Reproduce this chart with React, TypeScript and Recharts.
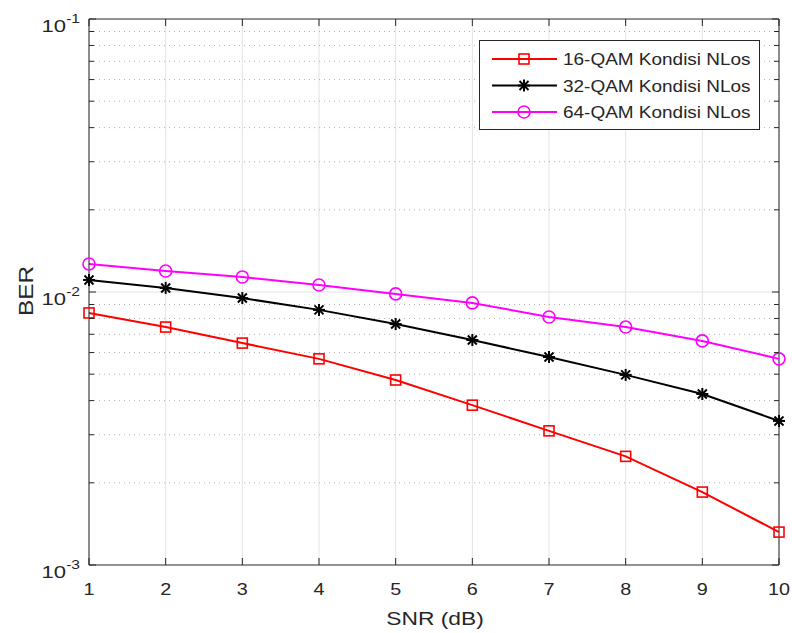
import { LineChart, Line, XAxis, YAxis, CartesianGrid, ReferenceLine } from 'recharts';

const snr = [1, 2, 3, 4, 5, 6, 7, 8, 9, 10];
const ber16 = [0.00838, 0.00744, 0.0065, 0.00569, 0.00476, 0.00385, 0.0031, 0.0025, 0.00185, 0.00132];
const ber32 = [0.01107, 0.01035, 0.0095, 0.0086, 0.00763, 0.00667, 0.00578, 0.00497, 0.00423, 0.00337];
const ber64 = [0.01267, 0.01194, 0.01135, 0.01061, 0.00984, 0.00912, 0.0081, 0.00744, 0.00662, 0.00569];
const seriesNames = ['16-QAM Kondisi NLos', '32-QAM Kondisi NLos', '64-QAM Kondisi NLos'];

const majorY = [0.001, 0.01, 0.1];
const majorExp = ['-3', '-2', '-1'];
const minorY = [0.002, 0.003, 0.004, 0.005, 0.006, 0.007, 0.008, 0.009, 0.02, 0.03, 0.04, 0.05, 0.06, 0.07, 0.08, 0.09];

const chartData = snr.map((s, i) => ({ snr: s, a: ber16[i], b: ber32[i], c: ber64[i] }));

const W = 792;
const H = 633;
const PLOT_LEFT = 89;
const PLOT_RIGHT = 779;
const PLOT_TOP = 19;
const PLOT_BOTTOM = 565;
const AX = '#262626';
const FONT = '"Liberation Sans", Arial, Helvetica, sans-serif';
const STRETCH = 1.2;

const RED = '#ff0000';
const BLACK = '#000000';
const MAGENTA = '#ff00ff';

const Square = ({ cx, cy, color }: any) => (
  <rect x={cx - 5} y={cy - 5} width={10} height={10} fill="none" stroke={color} strokeWidth={1.6} />
);
const Star = ({ cx, cy, color }: any) => (
  <g stroke={color} strokeWidth={2}>
    <line x1={cx - 6} y1={cy} x2={cx + 6} y2={cy} />
    <line x1={cx} y1={cy - 6} x2={cx} y2={cy + 6} />
    <line x1={cx - 4.5} y1={cy - 4.5} x2={cx + 4.5} y2={cy + 4.5} />
    <line x1={cx - 4.5} y1={cy + 4.5} x2={cx + 4.5} y2={cy - 4.5} />
  </g>
);
const Ring = ({ cx, cy, color }: any) => (
  <circle cx={cx} cy={cy} r={6} fill="none" stroke={color} strokeWidth={1.6} />
);

const YTick = (props: any) => {
  const { y, payload } = props;
  const idx = majorY.indexOf(payload.value);
  const major = idx >= 0;
  const len = major ? 7 : 5;
  return (
    <g>
      <line x1={PLOT_LEFT} y1={y} x2={PLOT_LEFT + len} y2={y} stroke={AX} strokeWidth={1} />
      <line x1={PLOT_RIGHT} y1={y} x2={PLOT_RIGHT - len} y2={y} stroke={AX} strokeWidth={1} />
      {major && (
        <text
          transform={`translate(80, ${y + 13}) scale(1.3, 1)`}
          textAnchor="end"
          fill={AX}
          fontFamily={FONT}
        >
          <tspan fontSize={17}>10</tspan>
          <tspan fontSize={12} dy={-9}>{majorExp[idx]}</tspan>
        </text>
      )}
    </g>
  );
};

const XTick = (props: any) => {
  const { x, payload } = props;
  return (
    <g>
      <line x1={x} y1={PLOT_BOTTOM} x2={x} y2={PLOT_BOTTOM - 7} stroke={AX} strokeWidth={1} />
      <line x1={x} y1={PLOT_TOP} x2={x} y2={PLOT_TOP + 7} stroke={AX} strokeWidth={1} />
      <text
        transform={`translate(${x}, 595) scale(${STRETCH}, 1)`}
        textAnchor="middle"
        fill={AX}
        fontFamily={FONT}
        fontSize={16.5}
      >
        {payload.value}
      </text>
    </g>
  );
};

const legendItems = [
  { name: seriesNames[0], color: RED, Marker: Square },
  { name: seriesNames[1], color: BLACK, Marker: Star },
  { name: seriesNames[2], color: MAGENTA, Marker: Ring },
];

const LegendBox = () => (
  <svg width={281} height={90} style={{ display: 'block' }}>
    <rect x={0.5} y={0.5} width={280} height={89} fill="#fff" stroke={AX} strokeWidth={1} />
    {legendItems.map((item, i) => {
      const cy = 19 + i * 26.5;
      return (
        <g key={item.name}>
          <line x1={13} y1={cy} x2={78} y2={cy} stroke={item.color} strokeWidth={2} />
          <item.Marker cx={45} cy={cy} color={item.color} />
          <text
            transform={`translate(84, ${cy + 6}) scale(1.15, 1)`}
            fill={AX}
            fontFamily={FONT}
            fontSize={16.5}
          >
            {item.name}
          </text>
        </g>
      );
    })}
  </svg>
);

export default function App() {
  return (
    <div style={{ position: 'absolute', left: 0, top: 0, width: W, height: H, background: '#fff' }}>
      <LineChart width={W} height={H} data={chartData} margin={{ top: PLOT_TOP, right: W - PLOT_RIGHT, bottom: 0, left: 0 }}>
        <CartesianGrid horizontal={false} vertical stroke="#e3e3e3" strokeWidth={1} />
        {minorY.map((v) => (
          <ReferenceLine key={v} y={v} stroke="#b0b0b0" strokeDasharray="1 4" strokeWidth={1} />
        ))}
        <ReferenceLine y={0.01} stroke="#e3e3e3" strokeWidth={1} />
        <XAxis
          dataKey="snr"
          type="number"
          domain={[1, 10]}
          ticks={snr}
          height={H - PLOT_BOTTOM}
          tick={<XTick />}
          tickLine={false}
          axisLine={{ stroke: AX, strokeWidth: 1 }}
          label={{
            content: () => (
              <text
                transform={`translate(435, 625) scale(${STRETCH}, 1)`}
                textAnchor="middle"
                fill={AX}
                fontFamily={FONT}
                fontSize={19}
              >
                SNR (dB)
              </text>
            ),
          }}
        />
        <YAxis
          type="number"
          scale="log"
          domain={[0.001, 0.1]}
          allowDataOverflow
          ticks={[...majorY, ...minorY]}
          width={PLOT_LEFT}
          tick={<YTick />}
          tickLine={false}
          interval={0}
          axisLine={{ stroke: AX, strokeWidth: 1 }}
          label={{
            content: () => (
              <text
                transform={`translate(33, 291) rotate(-90) scale(1.25, 1)`}
                textAnchor="middle"
                fill={AX}
                fontFamily={FONT}
                fontSize={19.5}
              >
                BER
              </text>
            ),
          }}
        />
        <ReferenceLine y={0.1} stroke={AX} strokeWidth={1} />
        <ReferenceLine x={10} stroke={AX} strokeWidth={1} />
        <Line
          dataKey="a"
          name={seriesNames[0]}
          stroke={RED}
          strokeWidth={2}
          isAnimationActive={false}
          dot={(p: any) => <Square key={`a${p.index}`} cx={p.cx} cy={p.cy} color={RED} />}
        />
        <Line
          dataKey="b"
          name={seriesNames[1]}
          stroke={BLACK}
          strokeWidth={2}
          isAnimationActive={false}
          dot={(p: any) => <Star key={`b${p.index}`} cx={p.cx} cy={p.cy} color={BLACK} />}
        />
        <Line
          dataKey="c"
          name={seriesNames[2]}
          stroke={MAGENTA}
          strokeWidth={2}
          isAnimationActive={false}
          dot={(p: any) => <Ring key={`c${p.index}`} cx={p.cx} cy={p.cy} color={MAGENTA} />}
        />
      </LineChart>
      <div style={{ position: 'absolute', left: 479, top: 40 }}>
        <LegendBox />
      </div>
    </div>
  );
}
